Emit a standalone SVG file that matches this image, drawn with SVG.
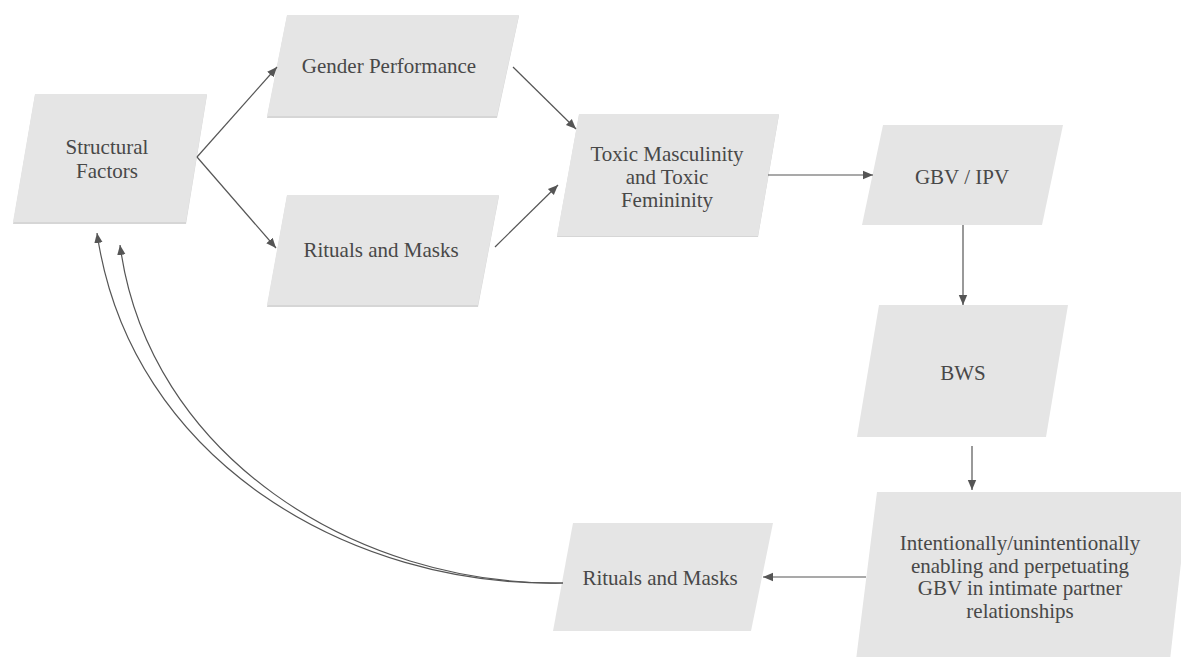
<svg xmlns="http://www.w3.org/2000/svg" width="1181" height="657" viewBox="0 0 1181 657">
<style>
.node polygon.s{fill:#d6d6d6}
.node polygon.b{fill:#e5e5e5}
.node text{font-family:"Liberation Serif","Noto Serif","DejaVu Serif","FreeSerif","Tinos","Times New Roman",Times,serif;font-size:21px;fill:#484848;text-anchor:middle}
.conn path{fill:none;stroke:#555;stroke-width:1.2}
</style>
<defs>
<marker id="ah" viewBox="0 0 10 10" refX="10" refY="5" markerWidth="10" markerHeight="10" markerUnits="userSpaceOnUse" orient="auto">
<path d="M0,0.8 L10,5 L0,9.2 Z" fill="#555"/>
</marker>
</defs>
<rect width="1181" height="657" fill="#fff"/>

<g id="n-structural" class="node">
<polygon class="s" points="35,95 207,95 186,224 13,224"/>
<polygon class="b" points="35,94 207,94 186,222 13,222"/>
<text x="107" y="154">Structural</text>
<text x="107" y="178">Factors</text>
</g>

<g id="n-gender" class="node">
<polygon class="s" points="287,16 519,16 497,118 267,118"/>
<polygon class="b" points="287,15 519,15 497,116 267,116"/>
<text x="389" y="73">Gender Performance</text>
</g>

<g id="n-rituals1" class="node">
<polygon class="s" points="287,196 499,196 478,307 267,307"/>
<polygon class="b" points="287,195 499,195 478,305 267,305"/>
<text x="381" y="257">Rituals and Masks</text>
</g>

<g id="n-toxic" class="node">
<polygon class="s" points="579,115 779,115 758,237 557,237"/>
<polygon class="b" points="579,114 779,114 758,236 557,236"/>
<text x="667" y="161">Toxic Masculinity</text>
<text x="667" y="184">and Toxic</text>
<text x="667" y="207">Femininity</text>
</g>

<g id="n-gbv" class="node">
<polygon class="b" points="883,125 1063,125 1042,225 862,225"/>
<text x="962" y="184">GBV / IPV</text>
</g>

<g id="n-bws" class="node">
<polygon class="b" points="879,305 1068,305 1046,437 857,437"/>
<text x="963" y="380">BWS</text>
</g>

<g id="n-enabling" class="node">
<polygon class="b" points="877,492 1189,492 1170,660 856,660"/>
<text x="1020" y="550">Intentionally/unintentionally</text>
<text x="1020" y="573">enabling and perpetuating</text>
<text x="1020" y="595">GBV in intimate partner</text>
<text x="1020" y="618">relationships</text>
</g>

<g id="n-rituals2" class="node">
<polygon class="b" points="573,523 773,523 751,631 553,631"/>
<text x="660" y="585">Rituals and Masks</text>
</g>

<g id="connectors" class="conn">
<path d="M197,157 L277,67" marker-end="url(#ah)"/>
<path d="M197,157 L276,248" marker-end="url(#ah)"/>
<path d="M513,67 L576,129" marker-end="url(#ah)"/>
<path d="M495,247 L558,185" marker-end="url(#ah)"/>
<path d="M768,175 L873,175" marker-end="url(#ah)"/>
<path d="M963,225 L963,305" marker-end="url(#ah)"/>
<path d="M972,446 L972,490" marker-end="url(#ah)"/>
<path d="M866,577 L763,577" marker-end="url(#ah)"/>
<path d="M563,583 C 350,588 130,460 97,233" marker-end="url(#ah)"/>
<path d="M563,583 C 355,586 148,455 120,245" marker-end="url(#ah)"/>
</g>
</svg>
